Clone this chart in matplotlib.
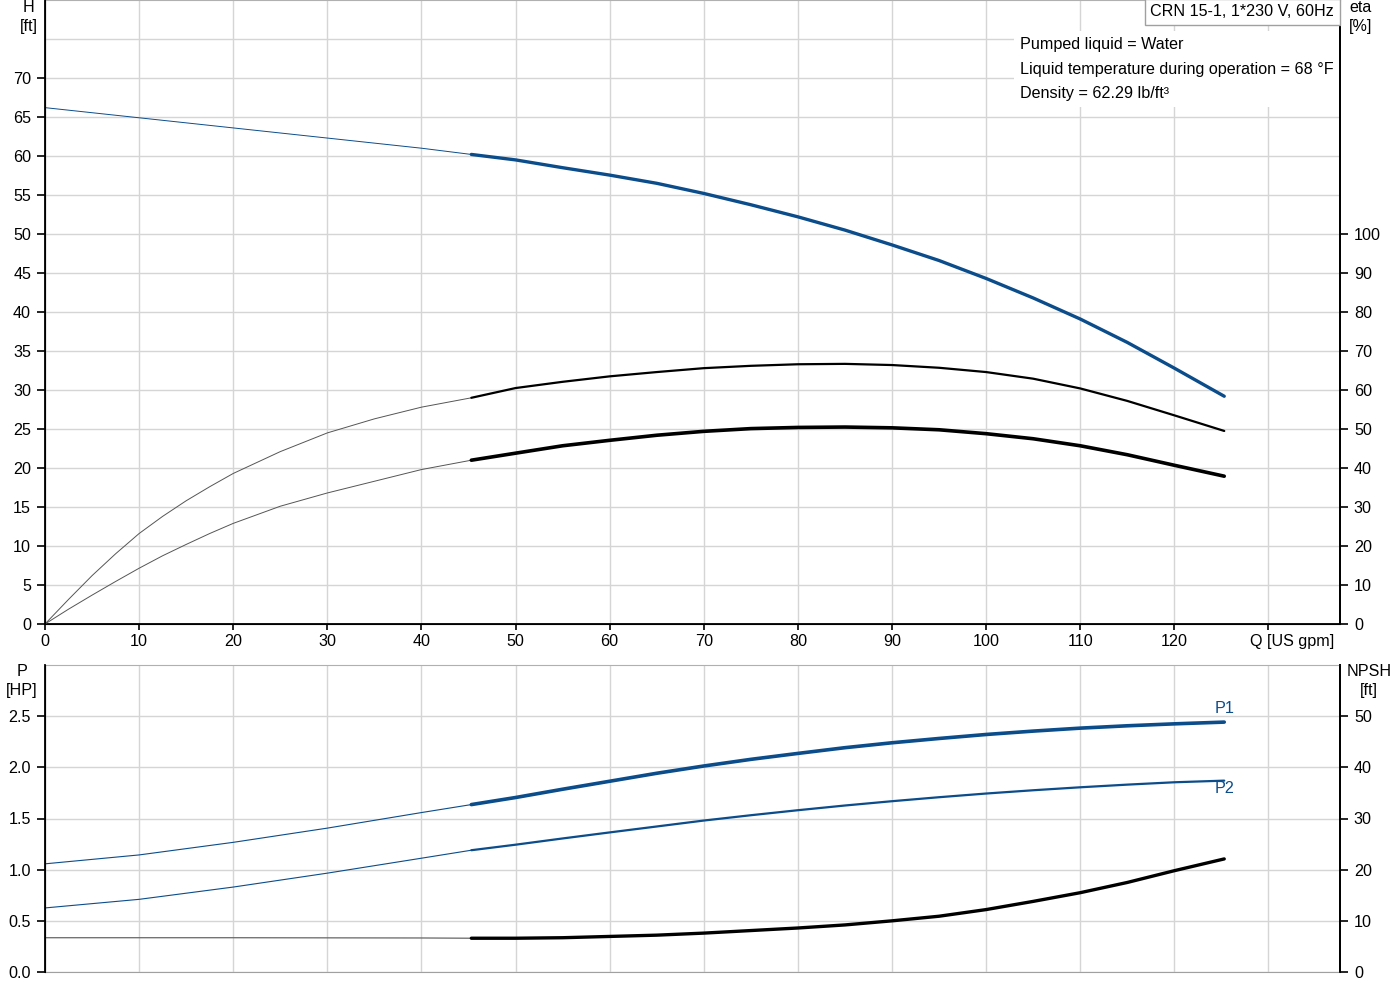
import matplotlib
matplotlib.use("Agg")
import matplotlib.pyplot as plt
from matplotlib.ticker import FixedLocator

plt.rcParams['font.family'] = ['Liberation Sans', 'DejaVu Sans']
plt.rcParams['font.size'] = 11.6

BLUE = '#0b4c8a'
GRID = '#d5d5d5'
Q_SPLIT = 45.3
Q_END = 125.3
FS = 11.6

### Curve data ###
# head H [ft]
q_h_thin = [0, 10, 20, 30, 40, Q_SPLIT]
h_thin = [66.2, 64.9, 63.6, 62.3, 61.0, 60.2]
q_h = [Q_SPLIT, 50, 55, 60, 65, 70, 75, 80, 85, 90, 95, 100, 105, 110, 115, 120, Q_END]
h = [60.2, 59.5, 58.5, 57.55, 56.5, 55.2, 53.75, 52.2, 50.5, 48.6, 46.6, 44.3, 41.8, 39.1, 36.1, 32.8, 29.2]

# efficiencies eta [%]
q_eta_thin = [0, 2.5, 5, 7.5, 10, 12.5, 15, 17.5, 20, 25, 30, 35, 40, Q_SPLIT]
eta_pump_thin = [0, 6.3, 12.4, 18.0, 23.2, 27.6, 31.6, 35.2, 38.6, 44.2, 49.0, 52.6, 55.6, 58.0]
eta_tot_thin = [0, 3.8, 7.4, 10.9, 14.3, 17.5, 20.4, 23.2, 25.8, 30.2, 33.6, 36.6, 39.6, 42.0]
q_eta = [Q_SPLIT, 50, 55, 60, 65, 70, 75, 80, 85, 90, 95, 100, 105, 110, 115, 120, Q_END]
eta_pump = [58.0, 60.5, 62.1, 63.5, 64.6, 65.6, 66.2, 66.6, 66.7, 66.4, 65.7, 64.6, 62.9, 60.4, 57.2, 53.5, 49.5]
eta_tot = [42.0, 43.8, 45.7, 47.1, 48.4, 49.4, 50.1, 50.4, 50.5, 50.3, 49.8, 48.8, 47.5, 45.7, 43.4, 40.7, 37.9]

# power P [HP]
q_p_thin = [0, 10, 20, 30, 40, Q_SPLIT]
p1_thin = [1.057, 1.144, 1.267, 1.406, 1.558, 1.636]
p2_thin = [0.626, 0.710, 0.830, 0.966, 1.112, 1.19]
q_p = [Q_SPLIT, 50, 55, 60, 65, 70, 75, 80, 85, 90, 95, 100, 105, 110, 115, 120, Q_END]
p1 = [1.636, 1.705, 1.786, 1.864, 1.942, 2.013, 2.078, 2.136, 2.192, 2.240, 2.282, 2.321, 2.354, 2.383, 2.406, 2.425, 2.442]
p2 = [1.19, 1.244, 1.305, 1.364, 1.422, 1.48, 1.532, 1.581, 1.627, 1.669, 1.708, 1.744, 1.776, 1.805, 1.831, 1.854, 1.870]

# NPSH [ft]
q_npsh_thin = [0, 20, 40, Q_SPLIT]
npsh_thin = [6.7, 6.7, 6.65, 6.6]
q_npsh = [Q_SPLIT, 50, 55, 60, 65, 70, 75, 80, 85, 90, 95, 100, 105, 110, 115, 120, Q_END]
npsh = [6.6, 6.6, 6.7, 6.95, 7.2, 7.6, 8.1, 8.6, 9.2, 10.0, 10.9, 12.2, 13.8, 15.5, 17.5, 19.8, 22.1]

x_ticks = list(range(0, 140, 10))
h_ticks = list(range(0, 75, 5))
eta_ticks = list(range(0, 110, 10))
p_ticks = [0.0, 0.5, 1.0, 1.5, 2.0, 2.5]
npsh_ticks = list(range(0, 60, 10))
####################################

W, H = 1400, 1000
fig = plt.figure(figsize=(14, 10), dpi=100)
ax1 = fig.add_axes([45 / W, 376 / H, 1295 / W, 624 / H])
ax2 = fig.add_axes([45 / W, 28 / H, 1295 / W, 307 / H])


def style_axes(ax, ymax):
    ax.set_xlim(0, 137.6)
    ax.set_ylim(0, ymax)
    ax.set_xticks(x_ticks)
    ax.grid(True, which='both', color=GRID, lw=1)
    ax.set_axisbelow(True)
    for s in ['left', 'right']:
        ax.spines[s].set_color('black')
        ax.spines[s].set_linewidth(1.3)
    ax.spines['top'].set_color('#b0b0b0')
    ax.tick_params(axis='y', which='major', length=6, width=1.2, pad=4, labelsize=FS)
    ax.tick_params(axis='y', which='minor', length=0)


# top panel: head + efficiency
style_axes(ax1, 80)
ax1.set_yticks(h_ticks)
ax1.yaxis.set_minor_locator(FixedLocator([75]))
ax1.spines['bottom'].set_color('black')
ax1.spines['bottom'].set_linewidth(1.3)
ax1.set_xticklabels([str(v) for v in x_ticks[:-1]] + [''])
ax1.tick_params(axis='x', length=4, width=1.2, pad=3, labelsize=FS)
ax1.annotate('Q [US gpm]', xy=(132.5, 0), xycoords=('data', 'axes fraction'),
             xytext=(0, -7), textcoords='offset points', ha='center', va='top', fontsize=FS)

ax1.plot(q_h_thin, h_thin, color=BLUE, lw=0.7)
ax1.plot(q_h, h, color=BLUE, lw=2.4, solid_capstyle='round')

ax1r = ax1.twinx()
ax1r.set_ylim(0, 160)
ax1r.set_yticks(eta_ticks)
ax1r.spines['right'].set_color('black')
ax1r.spines['right'].set_linewidth(1.3)
ax1r.spines['top'].set_visible(False)
ax1r.tick_params(axis='y', length=6, width=1.2, pad=4, labelsize=FS)
ax1r.plot(q_eta_thin, eta_pump_thin, color='#555555', lw=0.7)
ax1r.plot(q_eta, eta_pump, color='black', lw=1.6, solid_capstyle='round')
ax1r.plot(q_eta_thin, eta_tot_thin, color='#555555', lw=0.7)
ax1r.plot(q_eta, eta_tot, color='black', lw=2.6, solid_capstyle='round')

# bottom panel: power + NPSH
style_axes(ax2, 3.0)
ax2.set_yticks(p_ticks)
ax2.set_yticklabels(['%.1f' % v for v in p_ticks])
ax2.spines['bottom'].set_color('#a0a0a0')
ax2.tick_params(axis='x', length=0, labelbottom=False)
ax2.plot(q_p_thin, p1_thin, color=BLUE, lw=0.8)
ax2.plot(q_p, p1, color=BLUE, lw=2.6, solid_capstyle='round')
ax2.plot(q_p_thin, p2_thin, color=BLUE, lw=0.8)
ax2.plot(q_p, p2, color=BLUE, lw=1.6, solid_capstyle='round')
ax2.annotate('P1', xy=(q_p[-1], p1[-1]), xytext=(0, 10), textcoords='offset points',
             ha='center', va='center', color=BLUE, fontsize=FS)
ax2.annotate('P2', xy=(q_p[-1], p2[-1]), xytext=(0, -6), textcoords='offset points',
             ha='center', va='center', color=BLUE, fontsize=FS)

ax2r = ax2.twinx()
ax2r.set_ylim(0, 60)
ax2r.set_yticks(npsh_ticks)
ax2r.spines['right'].set_color('black')
ax2r.spines['right'].set_linewidth(1.3)
ax2r.spines['top'].set_visible(False)
ax2r.spines['bottom'].set_visible(False)
ax2r.tick_params(axis='y', length=6, width=1.2, pad=4, labelsize=FS)
ax2r.plot(q_npsh_thin, npsh_thin, color='#666666', lw=0.9)
ax2r.plot(q_npsh, npsh, color='black', lw=2.4, solid_capstyle='round')

# axis titles
fig.text(29 / W, 1 - 0 / H, 'H\n[ft]', ha='center', va='top', fontsize=FS, linespacing=1.3)
fig.text(1361 / W, 1 - 0 / H, 'eta\n[%]', ha='center', va='top', fontsize=FS, linespacing=1.3)
fig.text(22 / W, 1 - 664 / H, 'P\n[HP]', ha='center', va='top', fontsize=FS, linespacing=1.3)
fig.text(1369 / W, 1 - 664 / H, 'NPSH\n[ft]', ha='center', va='top', fontsize=FS, linespacing=1.3)

# pump info
fig.text(1334 / W, 1 - 12 / H, 'CRN 15-1, 1*230 V, 60Hz', ha='right', va='center', fontsize=FS,
         bbox=dict(boxstyle='square,pad=0.35', fc='white', ec='#a0a0a0', lw=1), zorder=10)
fig.text(1020 / W, 1 - 37 / H,
         'Pumped liquid = Water\nLiquid temperature during operation = 68 °F\nDensity = 62.29 lb/ft³',
         ha='left', va='top', fontsize=FS, linespacing=1.8,
         bbox=dict(boxstyle='square,pad=0.35', fc='white', ec='none'), zorder=10)

fig.savefig('out.png', dpi=100, facecolor='white')
